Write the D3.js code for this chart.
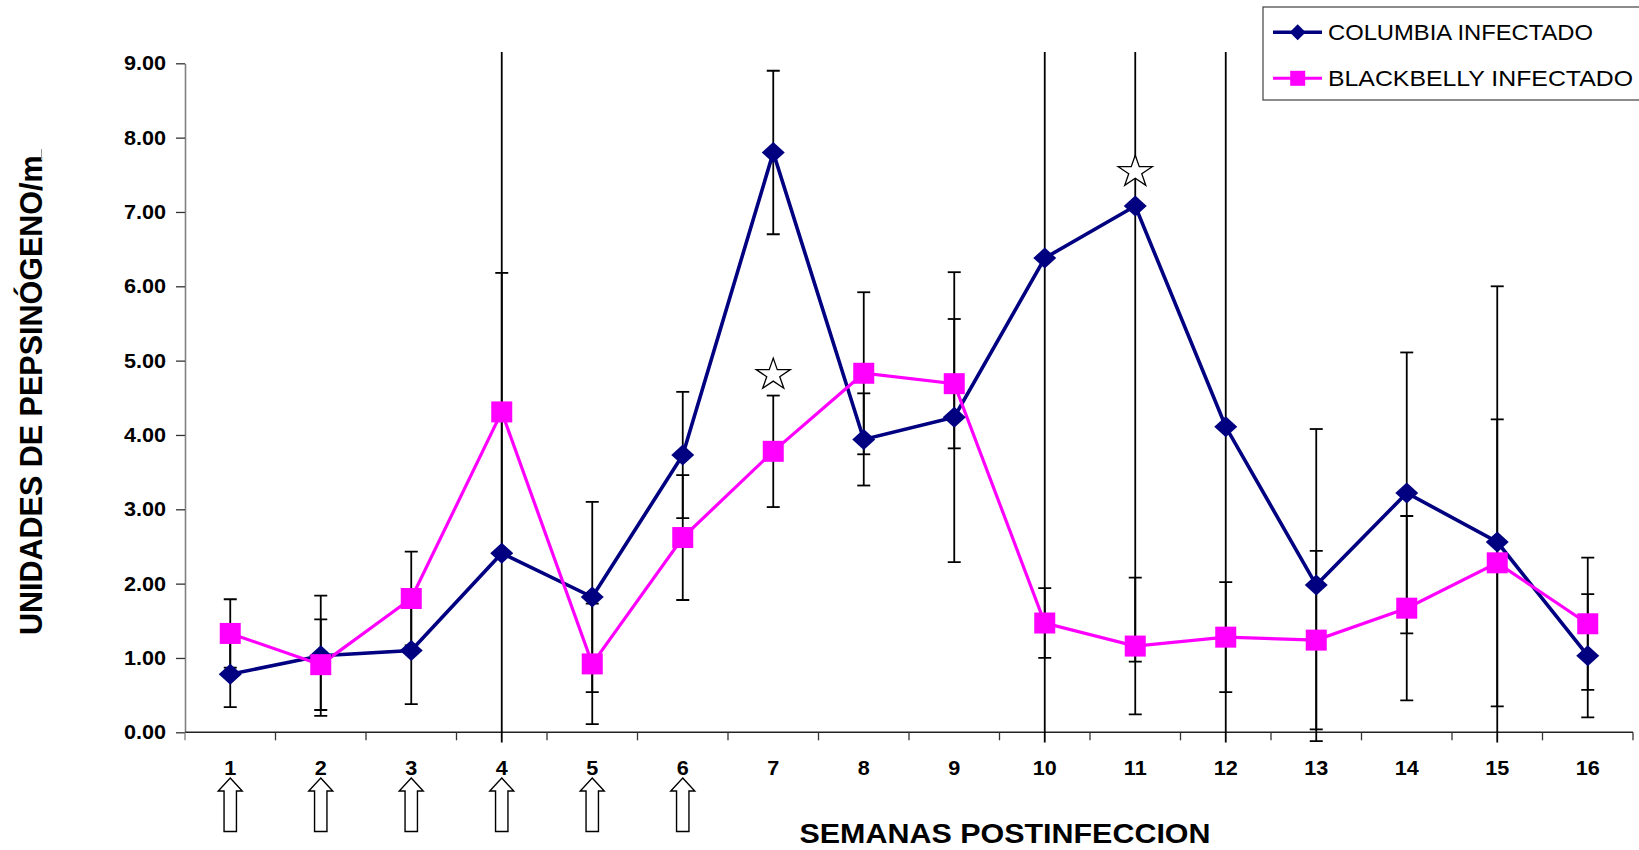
<!DOCTYPE html>
<html>
<head>
<meta charset="utf-8">
<script src="https://cdn.jsdelivr.net/npm/d3@7"></script>
<style>
  html, body { margin: 0; padding: 0; background: #ffffff; }
  svg { display: block; }
  text { font-family: Arial, "Liberation Sans", sans-serif; fill: #000; }
</style>
</head>
<body>
<svg id="chart" width="1639" height="850"></svg>
<script>
// Weeks after infection
const weeks = ["1","2","3","4","5","6","7","8","9","10","11","12","13","14","15","16"];

// Mean pepsinogen units per group, with standard deviations
const columbia     = [0.78, 1.03, 1.10, 2.41, 1.82, 3.73, 7.80, 3.94, 4.24, 6.38, 7.08, 4.11, 1.98, 3.22, 2.56, 1.03];
const columbiaSD   = [0.44, 0.81, 0.72, 7.00, 1.28, 0.85, 1.10, 0.62, 1.95, 7.00, 6.13, 5.50, 2.10, 1.89, 3.44, 0.83];
const blackbelly   = [1.33, 0.91, 1.80, 4.31, 0.92, 2.62, 3.78, 4.83, 4.69, 1.47, 1.16, 1.28, 1.24, 1.67, 2.28, 1.46];
const blackbellySD = [0.46, 0.61, 0.63, 1.87, 0.81, 0.84, 0.75, 1.09, 0.87, 0.47, 0.92, 0.74, 1.20, 1.24, 1.93, 0.89];

// Y axis tick values
const yTicks = [0, 1, 2, 3, 4, 5, 6, 7, 8, 9];

// Weeks in which larvae were dosed (arrows under the axis)
const doseWeeks = ["1","2","3","4","5","6"];

// Significant differences (stars)
const significance = [
  { week: "7",  value: 4.81 },
  { week: "11", value: 7.54 }
];

const seriesNames = ["COLUMBIA INFECTADO", "BLACKBELLY INFECTADO"];

const NAVY = "#000080";
const MAGENTA = "#FF00FF";
const STRETCH = 1.08;

const svg = d3.select("#chart");

const x = d3.scaleBand().domain(weeks).range([185, 1633]);
const bw = x.bandwidth();
const cx = w => x(w) + bw / 2;
const y = d3.scaleLinear().domain([0, 9]).range([732.3, 63.3]);

function stretchText(sel) {
  sel.each(function () {
    const w = this.getComputedTextLength();
    d3.select(this).attr("textLength", w * STRETCH).attr("lengthAdjust", "spacingAndGlyphs");
  });
}

const defs = svg.append("defs");
defs.append("clipPath").attr("id", "plotClip")
  .append("rect").attr("x", 185).attr("y", 52).attr("width", 1448).attr("height", 690.5);

// ---- Y axis ----
const yAxis = svg.append("g")
  .attr("transform", "translate(185,0)")
  .call(d3.axisLeft(y).tickValues(yTicks).tickFormat(d3.format(".2f")).tickSize(9).tickSizeOuter(0).tickPadding(10));
yAxis.select(".domain").attr("stroke", "#808080").attr("stroke-width", 1.6);
yAxis.selectAll(".tick line").attr("stroke", "#333").attr("stroke-width", 1.3);
yAxis.selectAll(".tick text")
  .attr("font-size", 20).attr("font-weight", "bold")
  .attr("font-family", "Arial, 'Liberation Sans', sans-serif")
  .call(stretchText);

// ---- X axis ----
svg.append("line")
  .attr("x1", 185).attr("x2", 1633).attr("y1", y(0)).attr("y2", y(0))
  .attr("stroke", "#222").attr("stroke-width", 1.6);

const boundaries = weeks.map(w => x(w)).concat([x.range()[1]]);
svg.append("g").selectAll("line.bound").data(boundaries).join("line")
  .attr("x1", d => d).attr("x2", d => d)
  .attr("y1", y(0)).attr("y2", y(0) + 8)
  .attr("stroke", (d, i) => i === 0 ? "#808080" : "#333").attr("stroke-width", 1.3);

const xAxis = svg.append("g")
  .attr("transform", `translate(0,${y(0)})`)
  .call(d3.axisBottom(x).tickSize(0).tickPadding(28.5));
xAxis.select(".domain").remove();
xAxis.selectAll(".tick text")
  .attr("font-size", 20).attr("font-weight", "bold")
  .attr("font-family", "Arial, 'Liberation Sans', sans-serif")
  .call(stretchText);

// ---- Error bars ----
const errData = [];
weeks.forEach((w, i) => {
  errData.push({ w, v: columbia[i], sd: columbiaSD[i] });
  errData.push({ w, v: blackbelly[i], sd: blackbellySD[i] });
});
const errG = svg.append("g").attr("clip-path", "url(#plotClip)");
const capHalf = 6.5;
errData.forEach(d => {
  const xc = cx(d.w);
  const top = y(d.v + d.sd), bot = y(d.v - d.sd);
  errG.append("line").attr("x1", xc).attr("x2", xc).attr("y1", top).attr("y2", bot)
    .attr("stroke", "#000").attr("stroke-width", 1.8);
  [top, bot].forEach(yy => {
    errG.append("line").attr("x1", xc - capHalf).attr("x2", xc + capHalf).attr("y1", yy).attr("y2", yy)
      .attr("stroke", "#000").attr("stroke-width", 1.8);
  });
});

// ---- Series lines ----
const line = d3.line().x(d => cx(d.w)).y(d => y(d.v));
const colPts = weeks.map((w, i) => ({ w, v: columbia[i] }));
const bbPts = weeks.map((w, i) => ({ w, v: blackbelly[i] }));

svg.append("path").datum(colPts).attr("d", line)
  .attr("fill", "none").attr("stroke", NAVY).attr("stroke-width", 3.6).attr("stroke-linejoin", "miter");
svg.append("path").datum(bbPts).attr("d", line)
  .attr("fill", "none").attr("stroke", MAGENTA).attr("stroke-width", 3.2).attr("stroke-linejoin", "miter");

// ---- Markers ----
const diamond = (px, py, hw, hh) => `M${px},${py - hh}L${px + hw},${py}L${px},${py + hh}L${px - hw},${py}Z`;
svg.append("g").selectAll("path").data(colPts).join("path")
  .attr("d", d => diamond(cx(d.w), y(d.v), 11.5, 10.5))
  .attr("fill", NAVY);
svg.append("g").selectAll("rect").data(bbPts).join("rect")
  .attr("x", d => cx(d.w) - 10.5).attr("y", d => y(d.v) - 10.5)
  .attr("width", 21).attr("height", 21)
  .attr("fill", MAGENTA);

// ---- Significance stars ----
function starPath(px, py, R) {
  const r = R * 0.382;
  const pts = [];
  for (let k = 0; k < 10; k++) {
    const a = (-90 + k * 36) * Math.PI / 180;
    const rad = k % 2 === 0 ? R : r;
    pts.push([px + rad * Math.cos(a) * STRETCH, py + rad * Math.sin(a)]);
  }
  return "M" + pts.map(p => p.join(",")).join("L") + "Z";
}
svg.append("g").selectAll("path").data(significance).join("path")
  .attr("d", d => starPath(cx(d.week), y(d.value), 16.6))
  .attr("fill", "#fff").attr("stroke", "#000").attr("stroke-width", 1.3).attr("stroke-linejoin", "miter");

// ---- Dose arrows ----
function arrowPath(px) {
  const tip = 778, headBase = 791, bottom = 831.5, hw = 12, sw = 6.2;
  return `M${px},${tip}L${px + hw},${headBase}L${px + sw},${headBase}L${px + sw},${bottom}` +
         `L${px - sw},${bottom}L${px - sw},${headBase}L${px - hw},${headBase}Z`;
}
svg.append("g").selectAll("path").data(doseWeeks).join("path")
  .attr("d", d => arrowPath(cx(d)))
  .attr("fill", "#fff").attr("stroke", "#000").attr("stroke-width", 1.4).attr("stroke-linejoin", "miter");

// ---- Axis titles ----
svg.append("text")
  .attr("x", 1005).attr("y", 843)
  .attr("text-anchor", "middle")
  .attr("font-size", 28).attr("font-weight", "bold")
  .attr("textLength", 411).attr("lengthAdjust", "spacingAndGlyphs")
  .text("SEMANAS POSTINFECCION");

const yTitleText = "UNIDADES DE PEPSINÓGENO/ml";
const yTitleClip = defs.append("clipPath").attr("id", "yTitleClip");
const yTitle = svg.append("text")
  .attr("transform", "translate(42,635) rotate(-90)")
  .attr("font-size", 30.5).attr("font-weight", "bold")
  .attr("clip-path", "url(#yTitleClip)")
  .text(yTitleText);
// the title box cuts off after "/m"
const visibleLen = yTitle.node().getSubStringLength(0, yTitleText.length - 1);
yTitleClip.append("rect")
  .attr("x", -10).attr("y", -40).attr("width", visibleLen + 10).attr("height", 60);
svg.append("line")
  .attr("x1", 41.5).attr("x2", 41.5).attr("y1", 149).attr("y2", 160)
  .attr("stroke", "#999").attr("stroke-width", 1);

// ---- Legend ----
const legend = svg.append("g");
legend.append("rect")
  .attr("x", 1263).attr("y", 7).attr("width", 420).attr("height", 93)
  .attr("fill", "#fff").attr("stroke", "#404040").attr("stroke-width", 1.2);
const legRows = [
  { name: seriesNames[0], color: NAVY, shape: "diamond", y: 32.3, width: 3.4, len: 265 },
  { name: seriesNames[1], color: MAGENTA, shape: "square", y: 78.3, width: 3, len: 305 }
];
legRows.forEach(r => {
  legend.append("line").attr("x1", 1273).attr("x2", 1322).attr("y1", r.y).attr("y2", r.y)
    .attr("stroke", r.color).attr("stroke-width", r.width);
  if (r.shape === "diamond") {
    legend.append("path").attr("d", diamond(1297.7, r.y, 8, 8)).attr("fill", r.color);
  } else {
    legend.append("rect").attr("x", 1297.7 - 7.5).attr("y", r.y - 7.5).attr("width", 15).attr("height", 15)
      .attr("fill", r.color);
  }
  legend.append("text").attr("x", 1328).attr("y", r.y + 8)
    .attr("font-size", 22.5)
    .attr("textLength", r.len).attr("lengthAdjust", "spacingAndGlyphs")
    .text(r.name);
});
</script>
</body>
</html>
